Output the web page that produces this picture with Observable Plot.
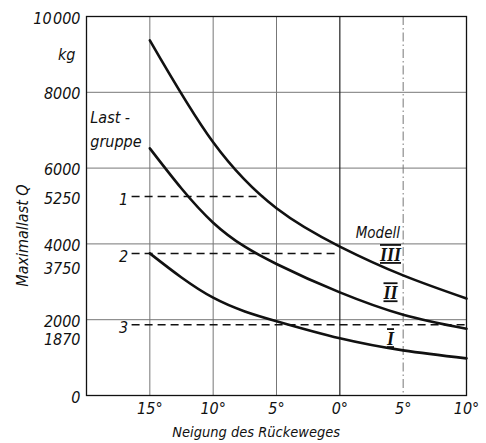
<!DOCTYPE html>
<html>
<head>
<meta charset="utf-8">
<script src="https://cdn.jsdelivr.net/npm/d3@7"></script>
<script src="https://cdn.jsdelivr.net/npm/@observablehq/plot@0.6"></script>
<style>
  html, body { margin: 0; padding: 0; background: #fff; }
  #chart svg { display: block; }
  .numeral text { text-decoration: underline overline; }
</style>
</head>
<body>
<div id="chart"></div>
<script>
// Slope of the skidding track (negative = uphill side of the scale)
const slopes = [-15, -10, -5, 0, 5, 10];
// Maximum load Q (kg) per model
const loadIII = [9370, 6680, 4940, 3930, 3170, 2560];
const loadII  = [6520, 4560, 3470, 2720, 2130, 1760];
const loadI   = [3750, 2580, 1960, 1510, 1190, 980];
const modelNames = ["III", "II", "I"];
const modelLabelY = [3700, 2690, 1480];

// Load groups (Lastgruppe) and where their reference line stops
const groupNames = ["1", "2", "3"];
const groupLoads = [5250, 3750, 1870];
const groupEnds  = [-6, 0, 10];
const groupStart = -16.4;

// Axis ticks
const xTicks = [-15, -10, -5, 0, 5, 10];
const yTicks = [0, 2000, 4000, 6000, 8000, 10000, 5250];
const yTicksLow = [3750, 1870];
const gridY = [2000, 4000, 6000, 8000];
const gridX = [-15, -10, -5];

const curves = [
  ...slopes.map((s, i) => ({model: "III", slope: s, load: loadIII[i]})),
  ...slopes.map((s, i) => ({model: "II", slope: s, load: loadII[i]})),
  ...slopes.map((s, i) => ({model: "I", slope: s, load: loadI[i]}))
];
const groups = groupNames.map((g, i) => ({group: g, load: groupLoads[i], end: groupEnds[i]}));
const numerals = modelNames.map((m, i) => ({model: m, y: modelLabelY[i]}));

const yFormat = d => d === 10000 ? "10\u200a000" : String(d);

const chart = Plot.plot({
  width: 486,
  height: 443,
  marginLeft: 86,
  marginRight: 20,
  marginTop: 16,
  marginBottom: 48,
  style: {
    fontFamily: "'Liberation Sans Narrow', 'DejaVu Sans Condensed', sans-serif",
    fontSize: "16px",
    fontStyle: "italic",
    color: "#111",
    background: "#fff"
  },
  x: {domain: [-20, 10]},
  y: {domain: [0, 10000]},
  marks: [
    // grid
    Plot.ruleY(gridY, {stroke: "#777", strokeWidth: 1}),
    Plot.ruleX(gridX, {stroke: "#777", strokeWidth: 1}),
    Plot.ruleX([0], {stroke: "#222", strokeWidth: 1.2}),
    Plot.ruleX([5], {stroke: "#777", strokeWidth: 1, strokeDasharray: "9,3,1.5,3"}),
    Plot.frame({stroke: "#111", strokeWidth: 1.3}),

    // axes
    Plot.axisX(xTicks, {tickSize: 0, tickPadding: 7, tickFormat: d => Math.abs(d) + "°", label: null}),
    Plot.axisY(yTicks, {tickSize: 0, tickPadding: 6, dy: 2, tickFormat: yFormat, label: null}),
    Plot.axisY(yTicksLow, {tickSize: 0, tickPadding: 6, dy: 15, tickFormat: yFormat, label: null}),
    Plot.text(["kg"], {frameAnchor: "left", y: 9000, dx: -11, textAnchor: "end", lineAnchor: "middle"}),
    Plot.text(["Maximallast Q"], {frameAnchor: "left", y: 4220, dx: -64, rotate: -90,
      textAnchor: "middle", lineAnchor: "middle", fontSize: 16}),
    Plot.text(["Neigung des Rückeweges"], {frameAnchor: "bottom", x: -6.6, dy: 37,
      textAnchor: "middle", lineAnchor: "middle", fontSize: 14.5}),

    // load group reference lines
    Plot.ruleY(groups, {y: "load", x1: groupStart, x2: "end", stroke: "#111",
      strokeWidth: 1.5, strokeDasharray: "8,5"}),
    Plot.text(groups, {x: groupStart, y: "load", text: "group", dx: -4, dy: 3,
      textAnchor: "end", lineAnchor: "middle"}),
    Plot.text(["Last -\ngruppe"], {x: -19.7, y: 7070, textAnchor: "start", lineAnchor: "middle",
      lineHeight: 1.5, fontSize: 16}),

    // model curves
    Plot.line(curves, {x: "slope", y: "load", z: "model", curve: "natural",
      stroke: "#111", strokeWidth: 2.6}),
    Plot.text(["Modell"], {x: 3, y: 4274, fontSize: 15}),
    Plot.text(numerals, {x: 4, y: "y", text: "model", className: "numeral",
      fontFamily: "'Liberation Serif', serif", fontSize: 18, fontWeight: "bold"})
  ]
});

document.getElementById("chart").appendChild(chart);
</script>
</body>
</html>
